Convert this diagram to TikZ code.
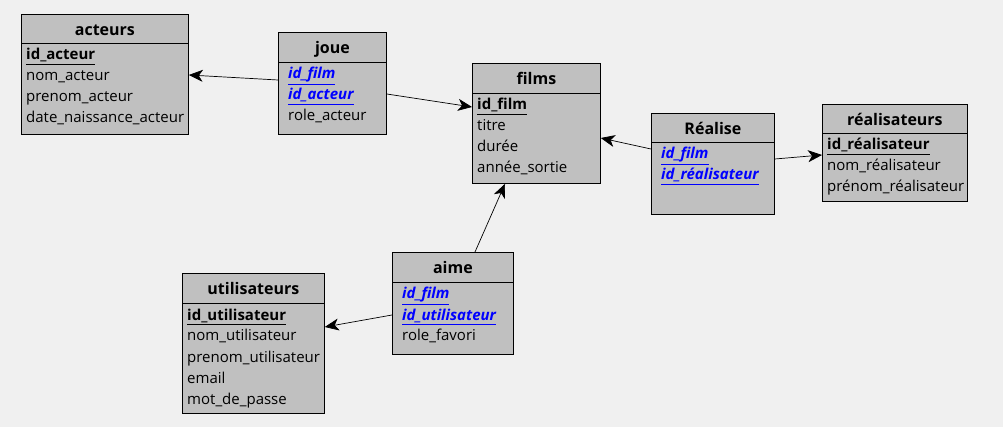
\documentclass[tikz,border=0pt]{standalone}
\usepackage{fontspec}
\setmainfont{Open Sans}
\usetikzlibrary{positioning,arrows.meta}
\definecolor{bggray}{HTML}{F0F0F0}
\definecolor{tablegray}{HTML}{C0C0C0}
\definecolor{fkblue}{HTML}{0000FF}
\newcommand{\pk}[1]{\textbf{\underline{#1}}}
\newcommand{\fk}[1]{\textcolor{fkblue}{\textbf{\textit{\underline{#1}}}}}

\begin{document}
\begin{tikzpicture}[
  x=1pt, y=-1pt,
  table/.style={draw=black, fill=tablegray, anchor=north west,
    inner sep=0pt, line width=0.8pt},
  title/.style={font=\bfseries\fontsize{16}{18}\selectfont, anchor=base, inner sep=0pt},
  field/.style={font=\fontsize{15}{17}\selectfont, anchor=base west, inner sep=0pt},
  link/.style={-{Stealth[length=14pt,width=12pt,inset=4pt]}, line width=0.7pt}
  ]
  \fill[bggray] (0,0) rectangle (1003,427);
  \useasboundingbox (0,0) rectangle (1003,427);

  % acteurs
  \node[table, minimum width=167pt, minimum height=120pt] (acteurs) at (21,14) {};
  \draw ([yshift=-29pt]acteurs.north west) -- ([yshift=-29pt]acteurs.north east);
  \node[title] (acteurs-title) at ([yshift=-22pt]acteurs.north) {acteurs};
  \foreach \txt [count=\i] in {\pk{id\_acteur}, nom\_acteur, prenom\_acteur,
    date\_naissance\_acteur}
    \node[field] (acteurs-\i) at ([xshift=5pt,yshift={-46pt-(\i-1)*21pt}]acteurs.north west) {\txt};

  % joue
  \node[table, minimum width=108pt, minimum height=102pt] (joue) at (278,32) {};
  \draw ([yshift=-30pt]joue.north west) -- ([yshift=-30pt]joue.north east);
  \node[title] (joue-title) at ([yshift=-22pt]joue.north) {joue};
  \foreach \txt [count=\i] in {\fk{id\_film}, \fk{id\_acteur}, role\_acteur}
    \node[field] (joue-\i) at ([xshift=10pt,yshift={-47pt-(\i-1)*21pt}]joue.north west) {\txt};

  % films
  \node[table, minimum width=128pt, minimum height=120pt] (films) at (472,63) {};
  \draw ([yshift=-30pt]films.north west) -- ([yshift=-30pt]films.north east);
  \node[title] (films-title) at ([yshift=-22pt]films.north) {films};
  \foreach \txt [count=\i] in {\pk{id\_film}, titre, durée, année\_sortie}
    \node[field] (films-\i) at ([xshift=5pt,yshift={-47pt-(\i-1)*21pt}]films.north west) {\txt};

  % realise
  \node[table, minimum width=123pt, minimum height=101pt] (realise) at (651,113) {};
  \draw ([yshift=-29pt]realise.north west) -- ([yshift=-29pt]realise.north east);
  \node[title] (realise-title) at ([yshift=-22pt]realise.north) {Réalise};
  \foreach \txt [count=\i] in {\fk{id\_film}, \fk{id\_réalisateur}}
    \node[field] (realise-\i) at ([xshift=10pt,yshift={-46pt-(\i-1)*21pt}]realise.north west) {\txt};

  % realisateurs
  \node[table, minimum width=145pt, minimum height=97pt] (realisateurs) at (822,104) {};
  \draw ([yshift=-29pt]realisateurs.north west) -- ([yshift=-29pt]realisateurs.north east);
  \node[title] (realisateurs-title) at ([yshift=-22pt]realisateurs.north) {réalisateurs};
  \foreach \txt [count=\i] in {\pk{id\_réalisateur}, nom\_réalisateur, prénom\_réalisateur}
    \node[field] (realisateurs-\i) at ([xshift=5pt,yshift={-46pt-(\i-1)*21pt}]realisateurs.north west) {\txt};

  % utilisateurs
  \node[table, minimum width=142pt, minimum height=140pt] (utilisateurs) at (182,273) {};
  \draw ([yshift=-30pt]utilisateurs.north west) -- ([yshift=-30pt]utilisateurs.north east);
  \node[title] (utilisateurs-title) at ([yshift=-22pt]utilisateurs.north) {utilisateurs};
  \foreach \txt [count=\i] in {\pk{id\_utilisateur}, nom\_utilisateur, prenom\_utilisateur,
    email, mot\_de\_passe}
    \node[field] (utilisateurs-\i) at ([xshift=5pt,yshift={-47pt-(\i-1)*21pt}]utilisateurs.north west) {\txt};

  % aime
  \node[table, minimum width=121pt, minimum height=102pt] (aime) at (392,252) {};
  \draw ([yshift=-30pt]aime.north west) -- ([yshift=-30pt]aime.north east);
  \node[title] (aime-title) at ([yshift=-22pt]aime.north) {aime};
  \foreach \txt [count=\i] in {\fk{id\_film}, \fk{id\_utilisateur}, role\_favori}
    \node[field] (aime-\i) at ([xshift=10pt,yshift={-47pt-(\i-1)*21pt}]aime.north west) {\txt};

  % relations
  \draw[link] ([yshift=-48pt]joue.north west) -- ([yshift=-61pt]acteurs.north east);
  \draw[link] ([yshift=-62pt]joue.north east) -- ([yshift=-44pt]films.north west);
  \draw[link] ([yshift=-36pt]realise.north west) -- ([yshift=-75pt]films.north east);
  \draw[link] ([yshift=-46pt]realise.north east) -- ([yshift=-51pt]realisateurs.north west);
  \draw[link] ([xshift=83pt]aime.north west) -- ([xshift=33pt]films.south west);
  \draw[link] ([yshift=-63pt]aime.north west) -- ([yshift=-54pt]utilisateurs.north east);
\end{tikzpicture}
\end{document}
